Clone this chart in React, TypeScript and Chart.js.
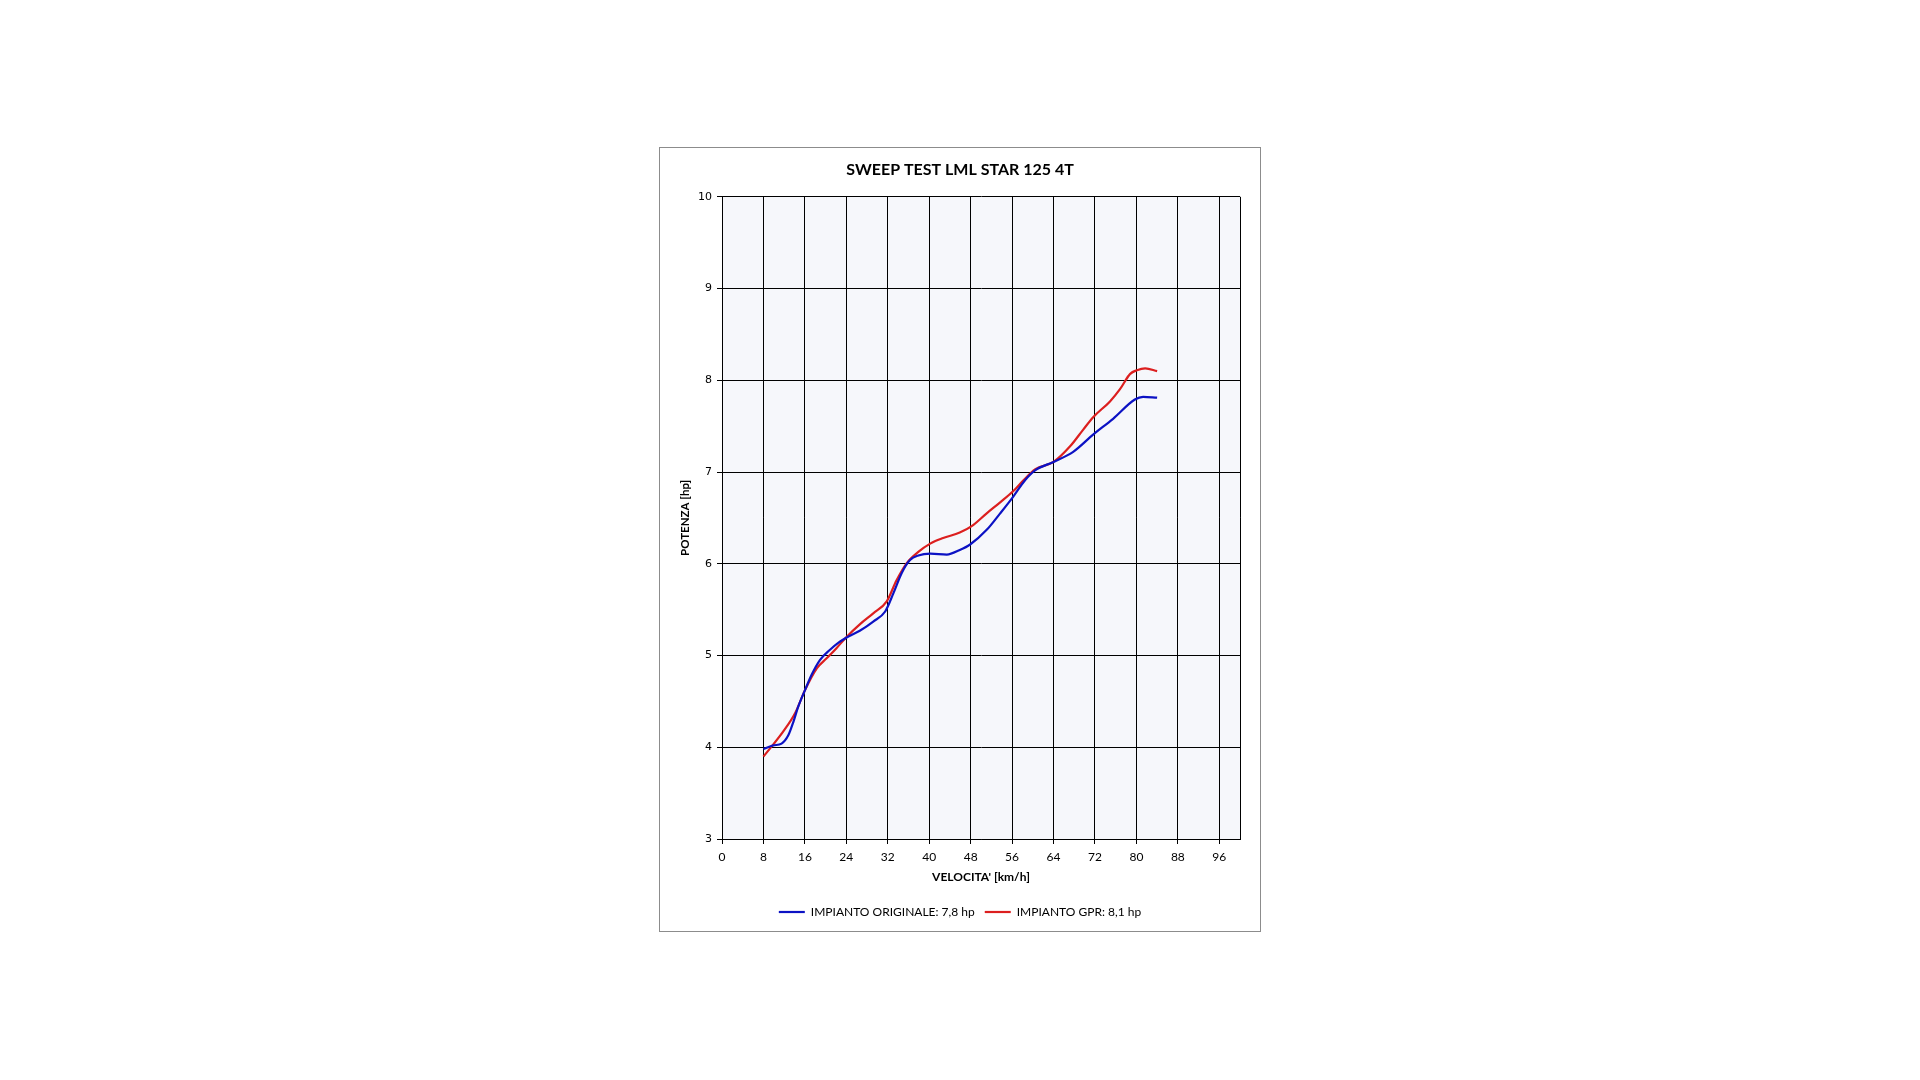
import { useEffect, useRef } from 'react';
import { Chart, registerables } from 'chart.js';

Chart.register(...registerables);

const CHART_TITLE = 'SWEEP TEST LML STAR 125 4T';
const X_TITLE = "VELOCITA' [km/h]";
const Y_TITLE = 'POTENZA [hp]';
const SERIES_NAMES = ['IMPIANTO ORIGINALE: 7,8 hp', 'IMPIANTO GPR: 8,1 hp'];
const SERIES_COLORS = ['#0c12c4', '#dc1f1f'];

const X_MIN = 0;
const X_MAX = 100;
const X_TICKS = [0, 8, 16, 24, 32, 40, 48, 56, 64, 72, 80, 88, 96];
const Y_MIN = 3;
const Y_MAX = 10;

const ORIG_SPEED = [8, 9.9, 11.5, 12.8, 13.8, 14.7, 16, 17.3, 18.9, 20.8, 22.5, 24.5, 26.6, 29.2, 31.5, 33.1, 34.7, 36.3, 37.9, 40.2, 43.4, 45.9, 47.9, 51.1, 53.7, 56.2, 58.5, 60.5, 64, 67.8, 71.7, 75.5, 79.7, 81.3, 84];
const ORIG_POWER = [3.98, 4.02, 4.04, 4.13, 4.28, 4.44, 4.62, 4.79, 4.95, 5.06, 5.14, 5.21, 5.27, 5.37, 5.48, 5.68, 5.9, 6.04, 6.09, 6.11, 6.1, 6.15, 6.21, 6.37, 6.55, 6.73, 6.91, 7.02, 7.11, 7.22, 7.41, 7.58, 7.79, 7.82, 7.81];

const GPR_SPEED = [8, 9.6, 11.8, 14.1, 16, 18.3, 20.2, 22.1, 24, 26.6, 29.2, 31.8, 33.7, 35.7, 37.9, 40.2, 42.7, 45.9, 48.2, 51.1, 53.7, 56.2, 58.2, 60.5, 64, 67.2, 69.7, 71.7, 74.9, 76.8, 78.8, 80.1, 81.7, 84];
const GPR_POWER = [3.9, 4.01, 4.17, 4.37, 4.62, 4.86, 4.97, 5.08, 5.2, 5.34, 5.46, 5.59, 5.82, 6.01, 6.13, 6.22, 6.28, 6.34, 6.41, 6.55, 6.67, 6.79, 6.91, 7.03, 7.11, 7.28, 7.46, 7.6, 7.77, 7.9, 8.07, 8.11, 8.13, 8.1];

const toPoints = (xs: number[], ys: number[]) => xs.map((x, i) => ({ x, y: ys[i] }));

const plotBackground = {
  id: 'plotBackground',
  beforeDraw(chart: any) {
    const { ctx, chartArea } = chart;
    if (!chartArea) return;
    ctx.save();
    ctx.fillStyle = '#f6f7fb';
    ctx.fillRect(chartArea.left, chartArea.top, chartArea.right - chartArea.left, chartArea.bottom - chartArea.top);
    ctx.restore();
  },
};

export default function App() {
  const canvasRef = useRef<HTMLCanvasElement | null>(null);

  useEffect(() => {
    if (!canvasRef.current) return;
    const chart = new Chart(canvasRef.current, {
      type: 'scatter',
      data: {
        datasets: [
          {
            label: SERIES_NAMES[0],
            data: toPoints(ORIG_SPEED, ORIG_POWER),
            showLine: true,
            borderColor: SERIES_COLORS[0],
            backgroundColor: SERIES_COLORS[0],
            borderWidth: 2.2,
            pointRadius: 0,
            cubicInterpolationMode: 'monotone',
          },
          {
            label: SERIES_NAMES[1],
            data: toPoints(GPR_SPEED, GPR_POWER),
            showLine: true,
            borderColor: SERIES_COLORS[1],
            backgroundColor: SERIES_COLORS[1],
            borderWidth: 2.2,
            pointRadius: 0,
            cubicInterpolationMode: 'monotone',
          },
        ],
      },
      options: {
        animation: false,
        responsive: true,
        maintainAspectRatio: false,
        events: [],
        layout: { padding: { top: 3, left: 20, right: 20, bottom: 20 } },
        plugins: {
          tooltip: { enabled: false },
          title: {
            display: true,
            text: CHART_TITLE,
            color: '#000',
            font: { family: 'Lato', size: 16, weight: 'bold' },
            padding: { top: 9.6, bottom: 17 },
          },
          legend: {
            display: true,
            position: 'bottom',
            labels: {
              color: '#000',
              font: { family: 'Lato', size: 12 },
              usePointStyle: true,
              pointStyle: 'line',
              pointStyleWidth: 26,
              padding: 10,
            },
          },
        },
        scales: {
          x: {
            type: 'linear',
            min: X_MIN,
            max: X_MAX,
            afterBuildTicks: (scale: any) => {
              scale.ticks = [...X_TICKS, X_MAX].map((v) => ({ value: v }));
            },
            afterFit: (scale: any) => {
              scale.height = 57;
            },
            ticks: {
              color: '#000',
              font: { family: 'Lato', size: 12 },
              padding: 6,
              maxRotation: 0,
              autoSkip: false,
              callback: (v: any) => (X_TICKS.includes(Number(v)) ? String(v) : ''),
            },
            grid: {
              color: '#000',
              lineWidth: 1,
              tickLength: 5,
              tickColor: (ctx: any) => (ctx.tick && ctx.tick.value === X_MAX ? 'rgba(0,0,0,0)' : '#000'),
            },
            border: { color: '#000', width: 1 },
            title: {
              display: true,
              text: X_TITLE,
              color: '#000',
              font: { family: 'Lato', size: 12, weight: 'bold' },
              padding: { top: 0, bottom: 12 },
            },
          },
          y: {
            type: 'linear',
            min: Y_MIN,
            max: Y_MAX,
            afterFit: (scale: any) => {
              scale.width = 42;
            },
            ticks: {
              stepSize: 1,
              color: '#000',
              font: { family: 'DejaVu Sans', size: 11 },
              padding: 5,
            },
            grid: { color: '#000', lineWidth: 1, tickLength: 5, tickColor: '#000' },
            border: { color: '#000', width: 1 },
            title: {
              display: true,
              text: Y_TITLE,
              color: '#000',
              font: { family: 'Lato', size: 11.5, weight: 'bold' },
              padding: { top: -2, bottom: 0 },
            },
          },
        },
      } as any,
      plugins: [plotBackground],
    });
    return () => chart.destroy();
  }, []);

  return (
    <div style={{ position: 'absolute', left: 0, top: 0, width: 1920, height: 1080, background: '#fff' }}>
      <div
        style={{
          position: 'absolute',
          left: 659,
          top: 147,
          width: 600,
          height: 783,
          border: '1px solid #8c8c8c',
          background: '#fff',
        }}
      />
      <div style={{ position: 'absolute', left: 660, top: 148, width: 600, height: 800 }}>
        <canvas ref={canvasRef} />
      </div>
    </div>
  );
}
